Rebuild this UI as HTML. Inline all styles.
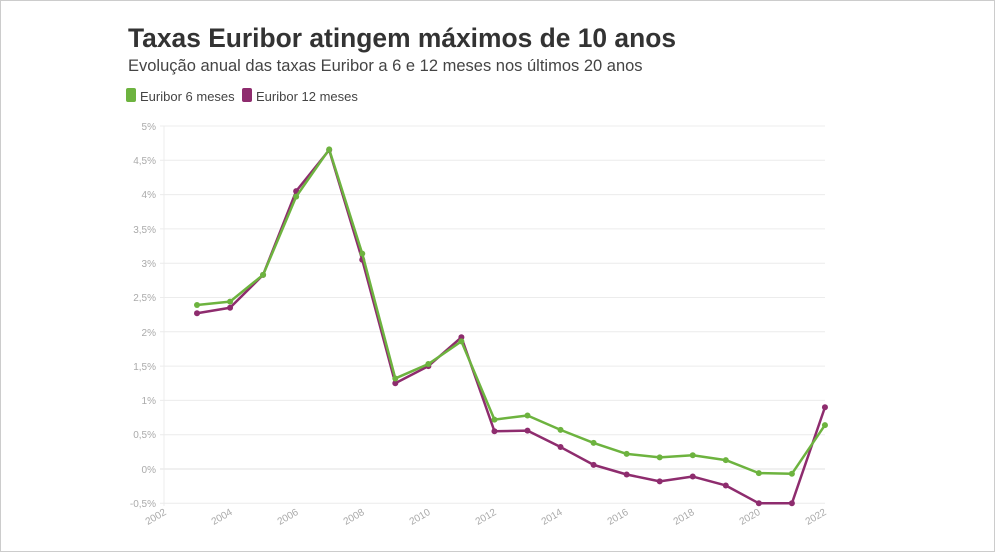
<!DOCTYPE html>
<html><head><meta charset="utf-8"><style>
html,body{margin:0;padding:0;background:#fff}
.wrap{width:993px;height:550px;border:1px solid #ccc;position:relative;overflow:hidden;font-family:"Liberation Sans",sans-serif}
</style></head><body><div class="wrap">
<svg width="993" height="550" viewBox="1 1 993 550" xmlns="http://www.w3.org/2000/svg" font-family="Liberation Sans, sans-serif">
<text x="128" y="47" font-size="27" font-weight="bold" fill="#333" textLength="548" lengthAdjust="spacingAndGlyphs">Taxas Euribor atingem máximos de 10 anos</text>
<text x="128" y="71" font-size="16.5" fill="#444">Evolução anual das taxas Euribor a 6 e 12 meses nos últimos 20 anos</text>
<rect x="126" y="88" width="10" height="14" rx="2" fill="#6db33f"/>
<text x="140" y="101" font-size="13" fill="#444">Euribor 6 meses</text>
<rect x="242" y="88" width="10" height="14" rx="2" fill="#8e2c6e"/>
<text x="256" y="101" font-size="13" fill="#444">Euribor 12 meses</text>
<g stroke="#ececec" stroke-width="1">
<line x1="160" x2="825" y1="126" y2="126"/><line x1="160" x2="825" y1="160.3" y2="160.3"/>
<line x1="160" x2="825" y1="194.6" y2="194.6"/><line x1="160" x2="825" y1="228.9" y2="228.9"/>
<line x1="160" x2="825" y1="263.2" y2="263.2"/><line x1="160" x2="825" y1="297.5" y2="297.5"/>
<line x1="160" x2="825" y1="331.8" y2="331.8"/><line x1="160" x2="825" y1="366.1" y2="366.1"/>
<line x1="160" x2="825" y1="400.4" y2="400.4"/><line x1="160" x2="825" y1="434.7" y2="434.7"/>
<line x1="160" x2="825" y1="469" y2="469" stroke-width="1.5"/><line x1="160" x2="825" y1="503.3" y2="503.3"/>
<line x1="164" x2="164" y1="126" y2="506"/>
</g>
<g font-size="10" fill="#aaa" text-anchor="end">
<text x="156" y="130">5%</text><text x="156" y="164">4,5%</text><text x="156" y="198">4%</text>
<text x="156" y="233">3,5%</text><text x="156" y="267">3%</text><text x="156" y="301">2,5%</text>
<text x="156" y="336">2%</text><text x="156" y="370">1,5%</text><text x="156" y="404">1%</text>
<text x="156" y="438">0,5%</text><text x="156" y="473">0%</text><text x="156" y="507">-0,5%</text>
</g>
<g font-size="10" fill="#aaa" text-anchor="end">
<text transform="translate(167,514) rotate(-30)">2002</text>
<text transform="translate(233,514) rotate(-30)">2004</text>
<text transform="translate(299,514) rotate(-30)">2006</text>
<text transform="translate(365,514) rotate(-30)">2008</text>
<text transform="translate(431,514) rotate(-30)">2010</text>
<text transform="translate(497,514) rotate(-30)">2012</text>
<text transform="translate(563,514) rotate(-30)">2014</text>
<text transform="translate(629,514) rotate(-30)">2016</text>
<text transform="translate(695,514) rotate(-30)">2018</text>
<text transform="translate(761,514) rotate(-30)">2020</text>
<text transform="translate(827,514) rotate(-30)">2022</text>
</g>
<g id="c"></g>
</svg>
<script>
const g=[2.39,2.44,2.83,3.97,4.66,3.14,1.32,1.53,1.86,0.72,0.78,0.57,0.38,0.22,0.17,0.20,0.13,-0.06,-0.07,0.64];
const p=[2.27,2.35,2.83,4.05,4.65,3.05,1.25,1.50,1.92,0.55,0.56,0.32,0.06,-0.08,-0.18,-0.11,-0.24,-0.50,-0.50,0.90];
const c=document.getElementById('c');let h='';
function s(d,col){const pts=d.map((v,i)=>[197+i*33.05,469-v*68.6]);
h+=`<polyline fill="none" stroke="${col}" stroke-width="2.5" stroke-linejoin="round" points="${pts.map(q=>q.join(',')).join(' ')}"/>`;
pts.forEach(q=>h+=`<circle cx="${q[0]}" cy="${q[1]}" r="3" fill="${col}"/>`);}
s(p,'#8e2c6e');s(g,'#6db33f');c.innerHTML=h;
</script>
</div></body></html>
